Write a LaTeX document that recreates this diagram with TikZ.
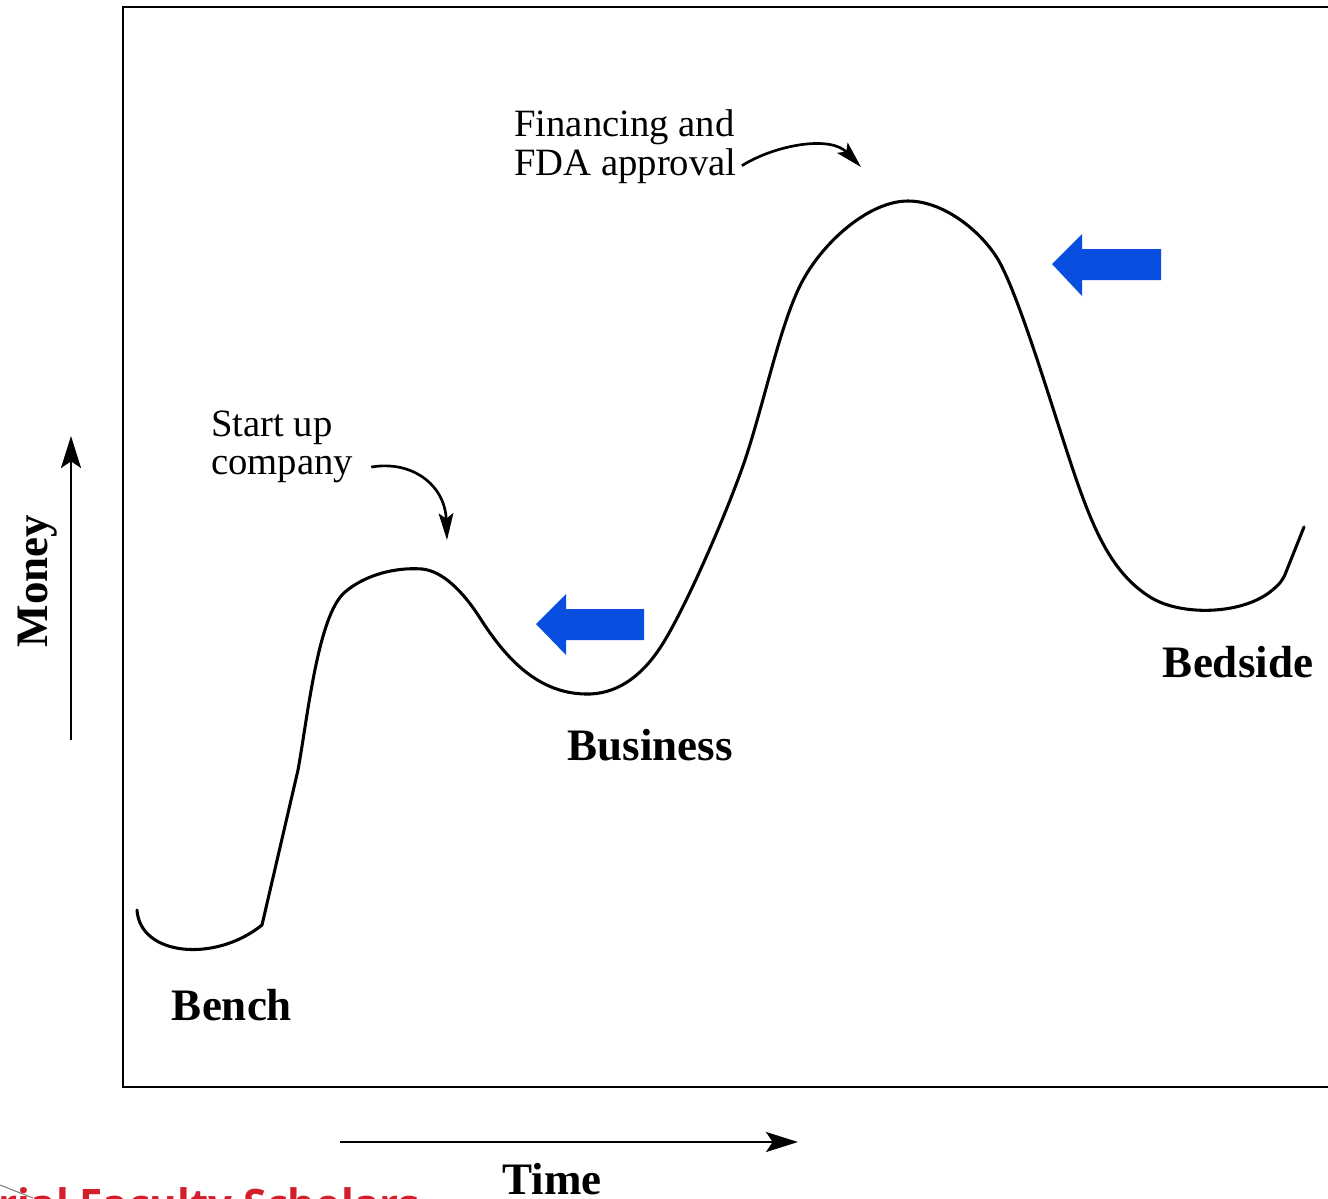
\documentclass[tikz,border=0pt]{standalone}
\usepackage{fontspec}
\setmainfont{Liberation Serif}
\newfontfamily\logofont{Open Sans}
\usetikzlibrary{arrows.meta}
\definecolor{arrowblue}{RGB}{8,79,223}
\definecolor{logored}{RGB}{210,31,43}
\begin{document}
\begin{tikzpicture}[x=0.75pt,y=-0.75pt,
  lbl/.style={font=\fontsize{29}{30}\selectfont, inner sep=0pt},
  blbl/.style={font=\fontsize{33.75}{36}\selectfont\bfseries, inner sep=0pt},
  curveline/.style={line width=2.3pt, line join=round, line cap=round},
  framestyle/.style={line width=2.2pt},
  axisarrow/.style={line width=1.6pt, -{Stealth[length=24pt,width=15pt,inset=5pt]}},
  pointer/.style={line width=2pt, -{Stealth[length=20pt,width=11pt,inset=4pt]}},
  bigarrow/.style={fill=arrowblue, draw=none}
]
\useasboundingbox (0,0) rectangle (1328,1199);

% frame
\draw[framestyle] (1340,7) -- (123,7) -- (123,1087) -- (1340,1087);

% curve
\draw[curveline] (137,910) .. controls (140,956) and (215,963) .. (262,925)
  -- (298,770)
  .. controls (308,715) and (318,615) .. (345,592)
  .. controls (365,575) and (395,567) .. (422,569)
  .. controls (442,571) and (462,590) .. (480,618)
  .. controls (503,654) and (535,693) .. (585,694)
  .. controls (615,695) and (640,678) .. (660,648)
  .. controls (685,610) and (728,510) .. (745,460)
  .. controls (765,400) and (781,320) .. (803,280)
  .. controls (825,240) and (870,201) .. (908,201)
  .. controls (946,201) and (985,235) .. (1000,263)
  .. controls (1024,308) and (1060,435) .. (1080,490)
  .. controls (1097,537) and (1115,575) .. (1150,597)
  .. controls (1180,616) and (1240,615) .. (1270,592)
  .. controls (1280,584) and (1283,580) .. (1286,572)
  -- (1304,527);

% blue arrows
\fill[bigarrow] (1052,264) -- (1082,234) -- (1082,249) -- (1161,249) -- (1161,280) -- (1082,280) -- (1082,296) -- cycle;
\fill[bigarrow] (536,624) -- (566,594) -- (566,609) -- (644,609) -- (644,640) -- (566,640) -- (566,655) -- cycle;

% labels
\node[lbl, anchor=base west] (fin1) at (514,136) {Financing and};
\node[lbl, anchor=base west] (fin2) at (514,175) {FDA approval};
\node[lbl, anchor=base west] (st1) at (211,436) {Start up};
\node[lbl, anchor=base west] (st2) at (211,474) {company};

\coordinate (finTip) at (861,167);
\coordinate (stTip) at (447,540);
\draw[pointer] (fin2.east) ++(5,0) .. controls (775,145) and (830,135) .. (finTip);
\draw[pointer] (st2.east) ++(18,-2) .. controls (412,460) and (445,485) .. (stTip);

\node[blbl, anchor=base] (bench) at (232,1020) {Bench};
\node[blbl, anchor=base] (business) at (650,760) {Business};
\node[blbl, anchor=base] (bedside) at (1238,677) {Bedside};
\node[blbl, anchor=base] (time) at (552,1194) {Time};
\node[blbl, anchor=base, rotate=90] (money) at (47,581) {Money};

% axes
\coordinate (mBot) at (71,740);
\coordinate (mTop) at (71,436);
\draw[axisarrow] (mBot) -- (mTop);
\coordinate (tLeft) at (340,1142);
\coordinate (tRight) at (798,1142);
\draw[axisarrow] (tLeft) -- (tRight);

% cut-off logo text
\node[anchor=base east, inner sep=0pt, text=logored, font=\fontsize{31.5}{34}\logofont\bfseries] (logo) at (420,1219) {rial Faculty Scholars};
\draw[gray, line width=0.8pt] (0,1185) -- (33,1198);
\end{tikzpicture}
\end{document}
